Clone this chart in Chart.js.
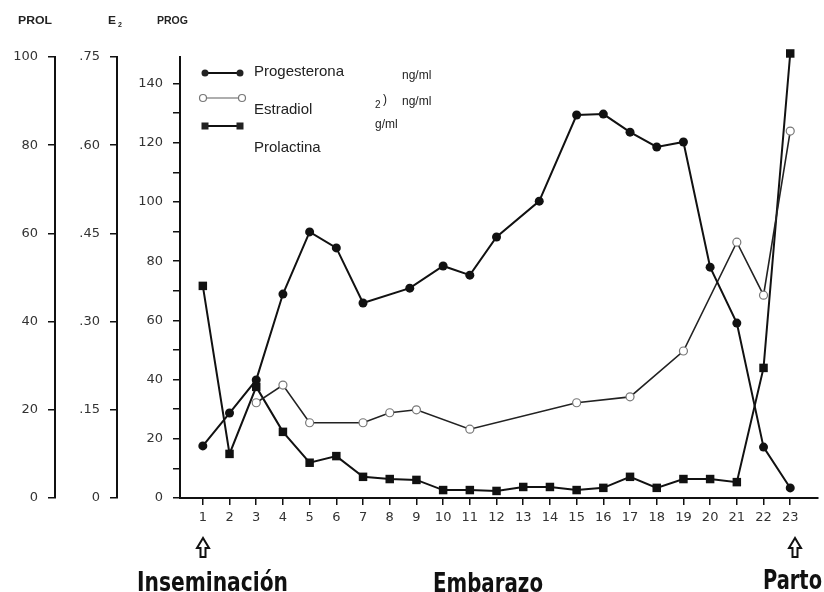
<!DOCTYPE html>
<html>
<head>
<meta charset="utf-8">
<script src="https://cdn.jsdelivr.net/npm/chart.js@4.4.0/dist/chart.umd.min.js"></script>
<style>
  html, body { margin: 0; padding: 0; background: #fff; }
</style>
</head>
<body>
<canvas id="hormoneChart" width="824" height="592"></canvas>
<script>
// weeks of pregnancy on the x axis
const weeks = [1, 2, 3, 4, 5, 6, 7, 8, 9, 10, 11, 12, 13, 14, 15, 16, 17, 18, 19, 20, 21, 22, 23];

// Progesterona (ng/ml) - a couple of samples sit between weeks in the original
const progWeeks = [1, 2, 3, 4, 5, 6, 7, 8.75, 10, 11, 12, 13.6, 15, 16, 17, 18, 19, 20, 21, 22, 23];
const progValues = [17.6, 28.7, 39.9, 68.9, 89.9, 84.5, 65.9, 70.9, 78.4, 75.3, 88.2, 100.3,
                    129.4, 129.7, 123.6, 118.6, 120.3, 78.0, 59.1, 17.2, 3.4];

// Estradiol (ng/ml)
const e2Weeks = [3, 4, 5, 7, 8, 9, 11, 15, 17, 19, 21, 22, 23];
const e2Values = [0.162, 0.192, 0.128, 0.128, 0.145, 0.150, 0.117, 0.162, 0.172, 0.250, 0.435, 0.345, 0.624];

// Prolactina
const prolValues = [48.1, 10.0, 25.2, 15.0, 8.0, 9.5, 4.8, 4.3, 4.1, 1.8, 1.8, 1.6, 2.5, 2.5,
                    1.8, 2.3, 4.8, 2.3, 4.3, 4.3, 3.6, 29.5, 100.8];

// tick labels
const prolTicks = [0, 20, 40, 60, 80, 100];
const e2Ticks = [0, 0.15, 0.30, 0.45, 0.60, 0.75];
const progTicks = [0, 10, 20, 30, 40, 50, 60, 70, 80, 90, 100, 110, 120, 130, 140];

const INK = '#111';
const tickFont = { family: '"DejaVu Sans", sans-serif', size: 13 };

function toPoints(xs, ys) {
    return xs.map((x, i) => ({ x: x, y: ys[i] }));
}

// common look for the three stacked left axes
function leftAxis(width, weight, ticks, max, formatter) {
    return {
        type: 'linear',
        position: 'left',
        weight: weight,
        min: 0,
        max: max,
        afterBuildTicks: axis => { axis.ticks = ticks.map(v => ({ value: v })); },
        afterFit: axis => { axis.width = width; },
        border: { display: true, color: INK, width: 2 },
        grid: { drawOnChartArea: false, drawTicks: true, tickLength: 7, color: INK, lineWidth: 1.5 },
        ticks: { color: '#333', font: tickFont, padding: 10, callback: formatter }
    };
}

// hollow up-arrow under the x axis
function drawArrow(ctx, cx, top) {
    ctx.beginPath();
    ctx.moveTo(cx, top);
    ctx.lineTo(cx - 6, top + 10);
    ctx.lineTo(cx - 2.5, top + 10);
    ctx.lineTo(cx - 2.5, top + 19);
    ctx.lineTo(cx + 2.5, top + 19);
    ctx.lineTo(cx + 2.5, top + 10);
    ctx.lineTo(cx + 6, top + 10);
    ctx.closePath();
    ctx.stroke();
}

// text stretched to the width it has in the picture
function drawFitted(ctx, text, left, right, baseline) {
    const w = ctx.measureText(text).width;
    ctx.save();
    ctx.translate(left, baseline);
    ctx.scale((right - left) / w, 1);
    ctx.fillText(text, 0, 0);
    ctx.restore();
}

const annotations = {
    id: 'annotations',
    afterDraw(chart) {
        const ctx = chart.ctx;
        ctx.save();
        ctx.fillStyle = '#222';
        ctx.strokeStyle = INK;

        // axis headers
        ctx.font = 'bold 10px "Liberation Sans", sans-serif';
        ctx.textBaseline = 'alphabetic';
        drawFitted(ctx, 'PROL', 18, 52, 24);
        drawFitted(ctx, 'E', 108, 116, 24);
        drawFitted(ctx, 'PROG', 157, 188, 24);
        ctx.font = 'bold 7px "Liberation Sans", sans-serif';
        ctx.fillText('2', 118, 27);

        // legend symbols
        ctx.textBaseline = 'middle';
        ctx.lineWidth = 2;
        ctx.beginPath(); ctx.moveTo(205, 73); ctx.lineTo(240, 73); ctx.stroke();
        [205, 240].forEach(x => { ctx.beginPath(); ctx.arc(x, 73, 3.5, 0, Math.PI * 2); ctx.fill(); });

        ctx.lineWidth = 1.2;
        ctx.strokeStyle = '#777';
        ctx.beginPath(); ctx.moveTo(207, 98); ctx.lineTo(239, 98); ctx.stroke();
        [203, 242].forEach(x => { ctx.beginPath(); ctx.arc(x, 98, 3.5, 0, Math.PI * 2); ctx.stroke(); });

        ctx.strokeStyle = INK;
        ctx.lineWidth = 2;
        ctx.beginPath(); ctx.moveTo(205, 126); ctx.lineTo(240, 126); ctx.stroke();
        [205, 240].forEach(x => ctx.fillRect(x - 3.5, 126 - 3.5, 7, 7));

        // legend text
        ctx.font = '15px "Liberation Sans", sans-serif';
        ctx.fillText('Progesterona', 254, 72);
        ctx.fillText('Estradiol', 254, 110);
        ctx.fillText('Prolactina', 254, 148);
        ctx.font = '12px "Liberation Sans", sans-serif';
        ctx.fillText('ng/ml', 402, 76);
        ctx.fillText('ng/ml', 402, 102);
        ctx.fillText('g/ml', 375, 125);
        ctx.fillText(')', 383, 100);
        ctx.font = '10px "Liberation Sans", sans-serif';
        ctx.fillText('2', 375, 105);

        // arrows and phase labels
        ctx.lineWidth = 2;
        drawArrow(ctx, 203, 538);
        drawArrow(ctx, 795, 538);
        ctx.fillStyle = INK;
        ctx.textBaseline = 'alphabetic';
        ctx.font = 'bold 27px "Liberation Sans Narrow", "DejaVu Sans Condensed", sans-serif';
        drawFitted(ctx, 'Inseminación', 137, 288, 591);
        drawFitted(ctx, 'Embarazo', 433, 543, 592);
        drawFitted(ctx, 'Parto', 763, 822, 589);
        ctx.restore();
    }
};

new Chart(document.getElementById('hormoneChart'), {
    type: 'line',
    data: {
        datasets: [{
            label: 'Progesterona',
            data: toPoints(progWeeks, progValues),
            yAxisID: 'prog',
            borderColor: INK,
            borderWidth: 2,
            backgroundColor: INK,
            pointStyle: 'circle',
            pointRadius: 4.5,
            pointBorderWidth: 0
        }, {
            label: 'Estradiol',
            data: toPoints(e2Weeks, e2Values),
            yAxisID: 'e2',
            borderColor: '#222',
            borderWidth: 1.6,
            pointBackgroundColor: '#fff',
            pointBorderColor: '#777',
            pointBorderWidth: 1.2,
            pointRadius: 4
        }, {
            label: 'Prolactina',
            data: toPoints(weeks, prolValues),
            yAxisID: 'prol',
            borderColor: INK,
            borderWidth: 2,
            backgroundColor: INK,
            pointStyle: 'rect',
            pointRadius: 6,
            pointBorderWidth: 0,
            clip: false
        }]
    },
    options: {
        responsive: false,
        animation: false,
        layout: { padding: { top: 57, right: 1, left: 0, bottom: 0 } },
        plugins: {
            legend: { display: false },
            tooltip: { enabled: false }
        },
        scales: {
            x: {
                type: 'linear',
                position: 'bottom',
                min: 0.145,
                max: 24.04,
                afterBuildTicks: axis => { axis.ticks = weeks.map(v => ({ value: v })); },
                afterFit: axis => { axis.height = 94; },
                border: { display: true, color: INK, width: 2 },
                grid: { drawOnChartArea: false, drawTicks: true, tickLength: 7, color: INK, lineWidth: 1.5 },
                ticks: { color: '#333', font: tickFont, padding: 5, autoSkip: false, maxRotation: 0 }
            },
            prol: leftAxis(55, 2, prolTicks, 100, v => String(v)),
            e2: leftAxis(62, 1, e2Ticks, 0.75, v => v === 0 ? '0' : v.toFixed(2).replace(/^0/, '')),
            prog: leftAxis(63, 0, progTicks, 149, v => (v % 20 === 0 ? String(v) : ''))
        }
    },
    plugins: [annotations]
});
</script>
</body>
</html>
